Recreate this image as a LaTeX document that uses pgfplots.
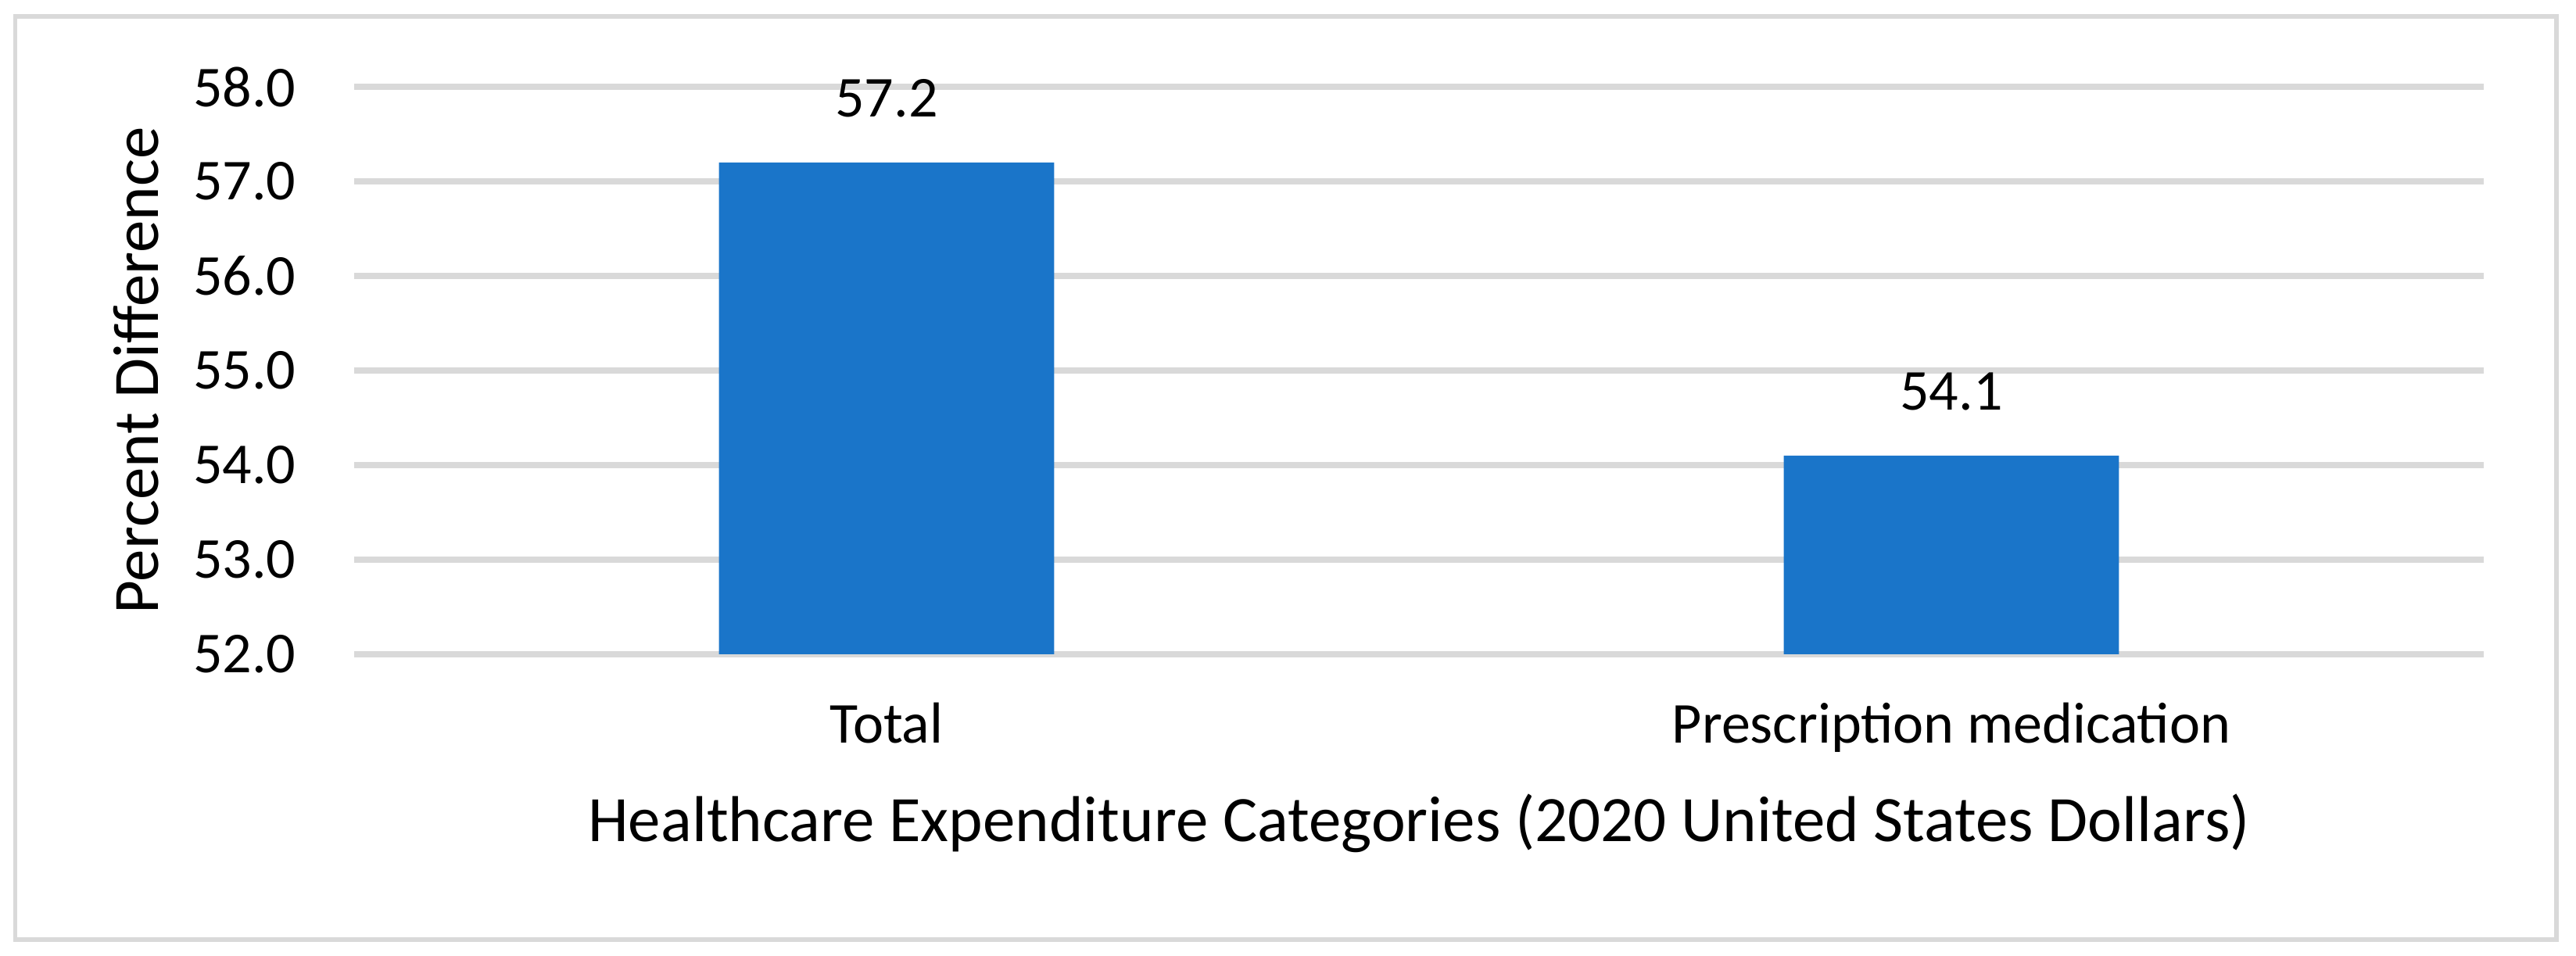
\documentclass[border=0pt]{standalone}
\usepackage{fontspec}
\setmainfont{Carlito}
\usepackage{pgfplots}
\pgfplotsset{compat=1.18}
\definecolor{gridgray}{HTML}{D9D9D9}
\definecolor{barblue}{HTML}{1A75C9}
\newcommand\tickfont{\fontsize{10bp}{12bp}\selectfont}
\newcommand\titlefont{\fontsize{11.2bp}{13.4bp}\selectfont}
\begin{document}
\begin{tikzpicture}
\useasboundingbox (-61.155bp,-52.11bp) rectangle (383.67bp,112.995bp);
\draw[gridgray, line width=0.8bp] (-58.52bp,-49.28bp) rectangle (380.3bp,110.16bp);
\begin{axis}[
  at={(0,0)}, anchor=south west,
  scale only axis, width=367.74bp, height=98.01bp,
  xmin=-0.5, xmax=1.5, ymin=52, ymax=58,
  ytick={52,53,54,55,56,57,58},
  xtick={0,1}, xticklabels={Total, Prescription medication},
  axis line style={draw=none},
  major tick length=0pt,
  ymajorgrids, grid style={color=gridgray, line width=1bp},
  /pgf/number format/assume math mode=true,
  yticklabel={\pgfmathprintnumber[fixed,fixed zerofill,precision=1]{\tick}},
  yticklabel style={anchor=east, inner sep=0pt, xshift=-9.86bp, font=\tickfont},
  xticklabel style={anchor=base, inner sep=0pt, yshift=-15.3bp, font=\tickfont},
  xlabel={Healthcare Expenditure Categories (2020 United States Dollars)},
  ylabel={Percent Difference},
  xlabel style={at={(axis description cs:0.5,-0.3296)}, anchor=base, inner sep=0pt, font=\titlefont},
  ylabel style={at={(axis description cs:-0.09178,0.5)}, anchor=base, inner sep=0pt, font=\titlefont},
  ybar, bar width=57.9bp,
  nodes near coords={\pgfmathprintnumber[fixed,fixed zerofill,precision=1]{\pgfplotspointmeta}},
  every node near coord/.style={anchor=base, inner sep=0pt, yshift=7.83bp, font=\tickfont, text=black},
  clip=false,
]
\addplot[fill=barblue, draw=none] coordinates {(0,57.2) (1,54.1)};
\end{axis}
\end{tikzpicture}
\end{document}
